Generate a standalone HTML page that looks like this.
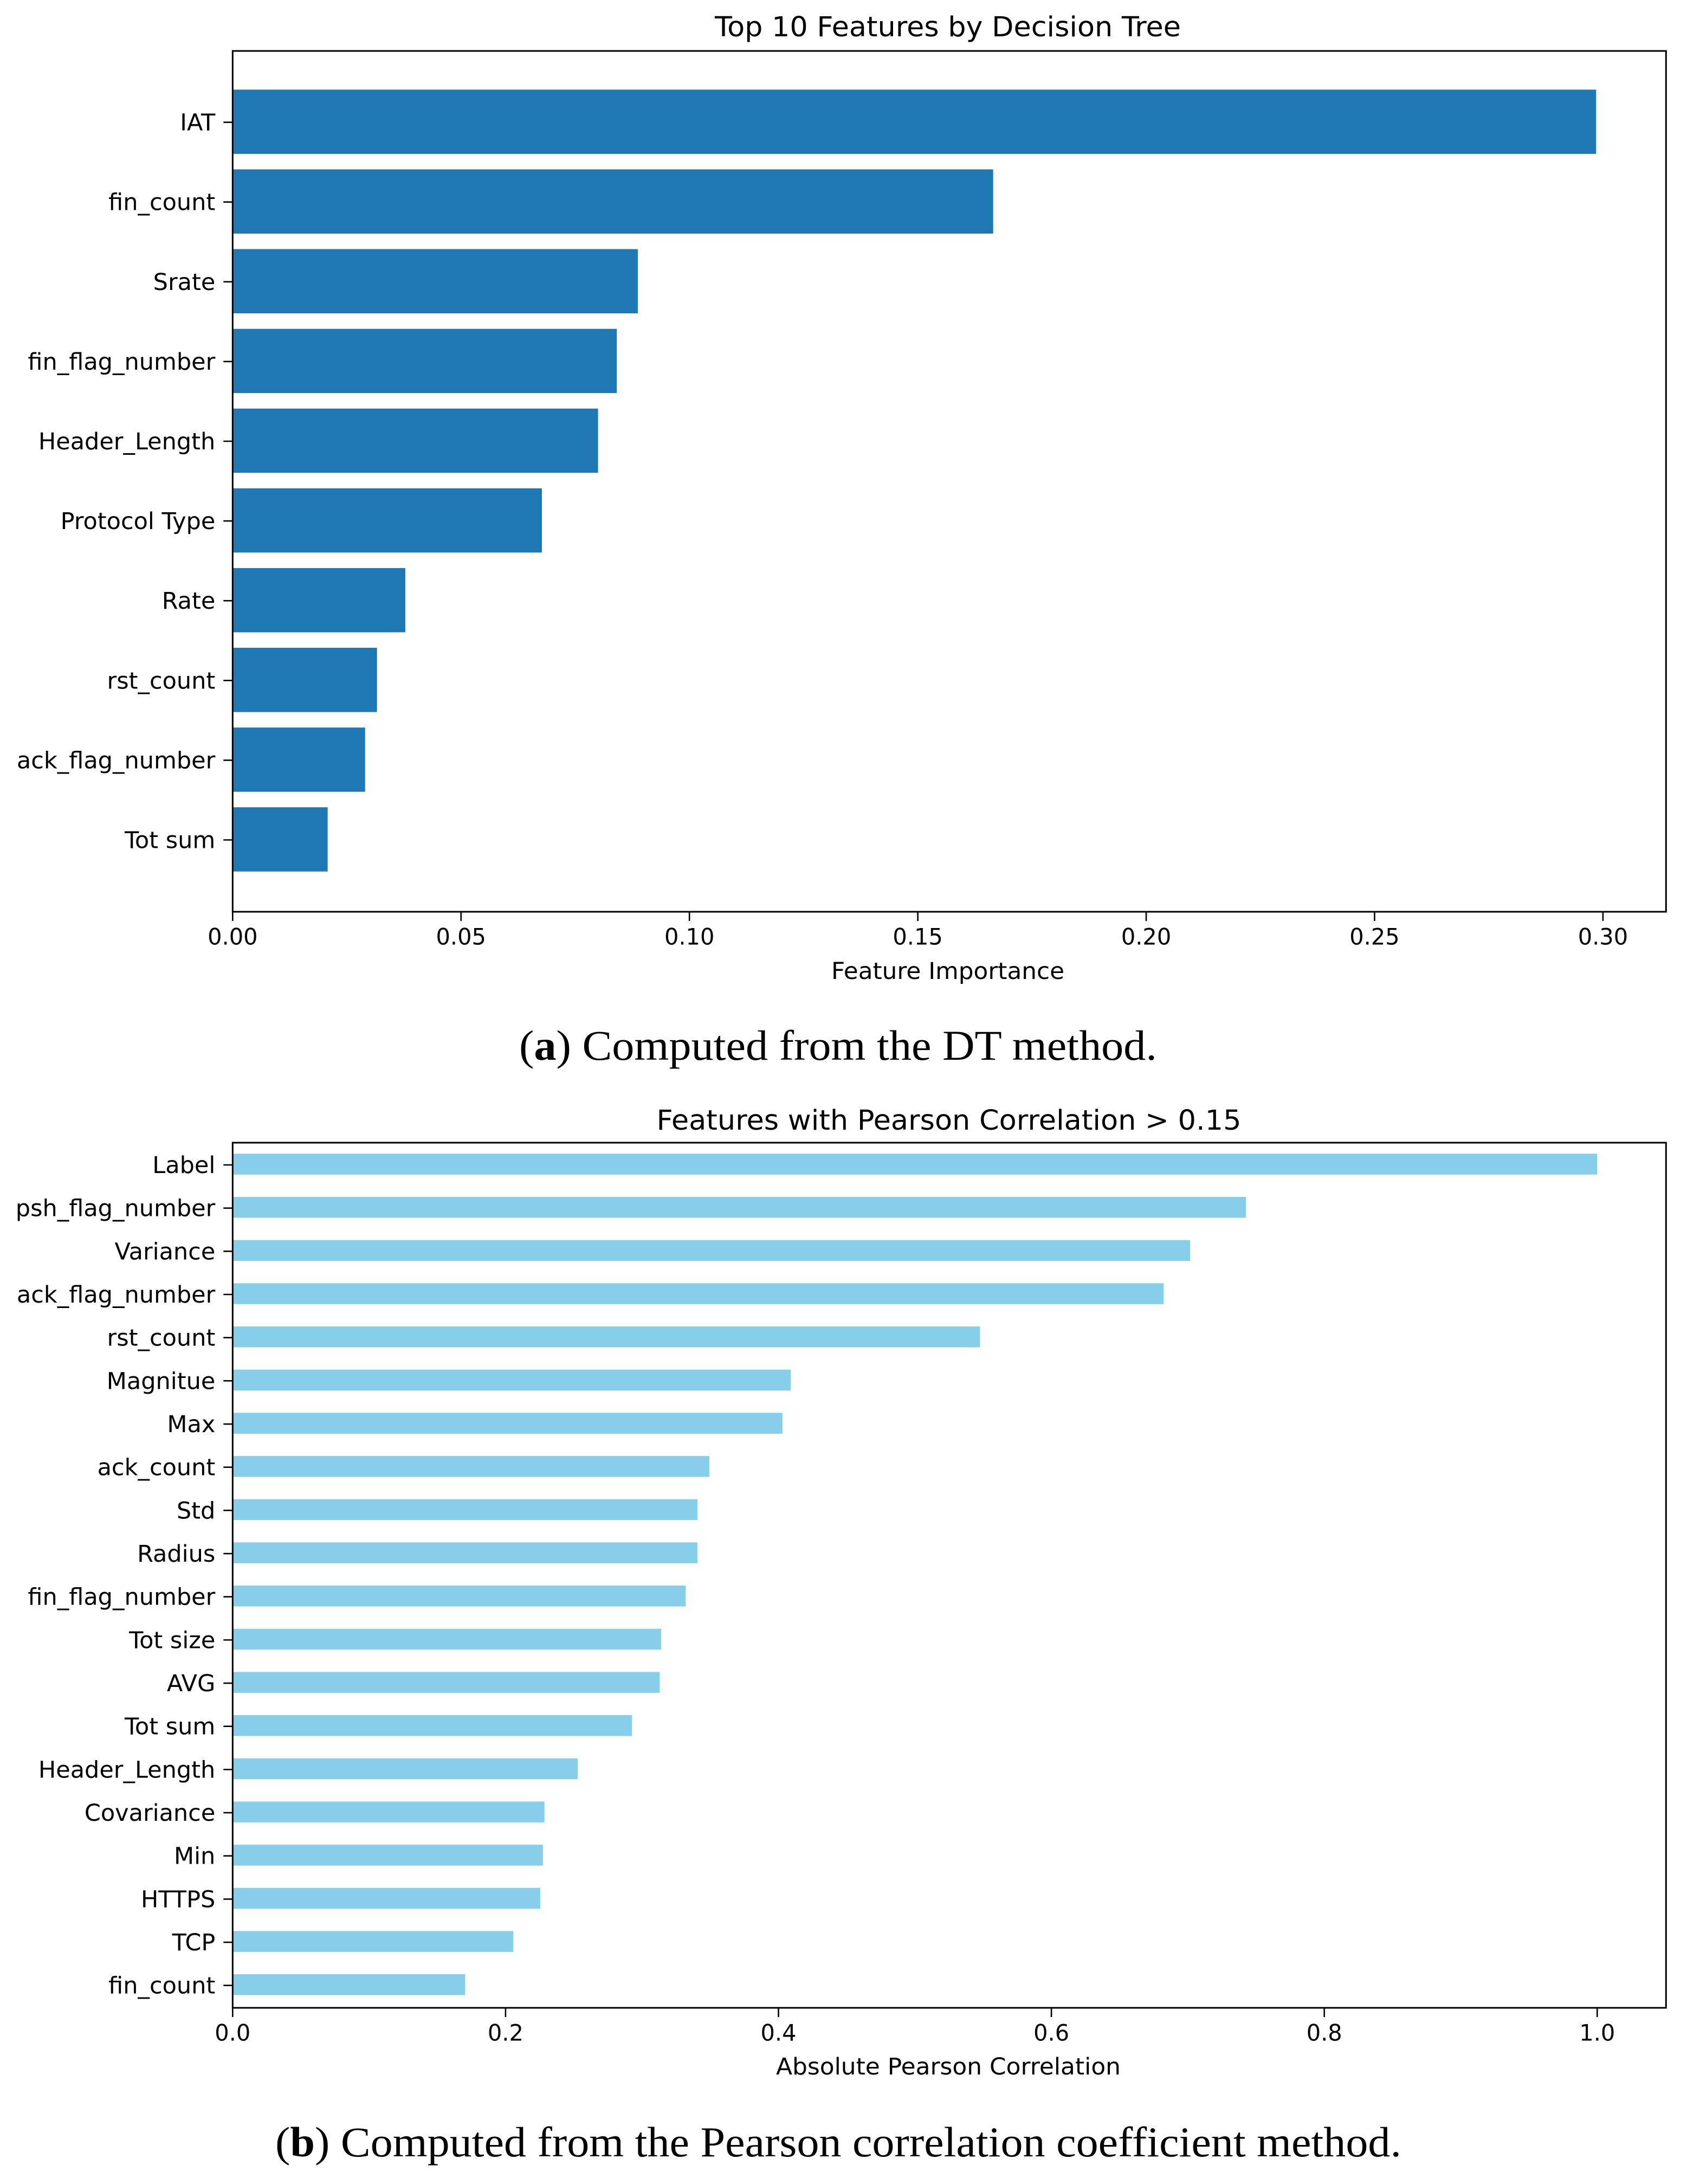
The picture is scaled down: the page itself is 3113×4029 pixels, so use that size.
<!DOCTYPE html>
<html lang="en">
<head>
<meta charset="utf-8">
<title>Feature importance charts</title>
<style>
html,body{margin:0;padding:0;background:#fff;width:3113px;height:4029px;overflow:hidden}
svg{display:block}
text{font-family:"DejaVu Sans","Liberation Sans",sans-serif;fill:#000}
.cap{font-family:"Liberation Serif",serif;font-size:78px}
.cat{font-size:43px}
.tick{font-size:41.5px}
</style>
</head>
<body>
<svg id="figure" xmlns="http://www.w3.org/2000/svg" width="3113" height="4029" viewBox="0 0 3113 4029">
  <rect x="0" y="0" width="3113" height="4029" fill="#fff"/>
  <g id="chart-a"></g>
  <text x="1749" y="67" text-anchor="middle" font-size="51" textLength="860" lengthAdjust="spacingAndGlyphs">Top 10 Features by Decision Tree</text>
  <text x="1749" y="1806" text-anchor="middle" font-size="43" textLength="430" lengthAdjust="spacingAndGlyphs">Feature Importance</text>
  <text class="cap" x="958" y="1955" textLength="1177" lengthAdjust="spacingAndGlyphs">(<tspan font-weight="bold">a</tspan>) Computed from the DT method.</text>
  <g id="chart-b"></g>
  <text x="1751" y="2084" text-anchor="middle" font-size="51" textLength="1079" lengthAdjust="spacingAndGlyphs">Features with Pearson Correlation &gt; 0.15</text>
  <text x="1750" y="3827" text-anchor="middle" font-size="43" textLength="636" lengthAdjust="spacingAndGlyphs">Absolute Pearson Correlation</text>
  <text class="cap" x="508" y="3978" textLength="2078" lengthAdjust="spacingAndGlyphs">(<tspan font-weight="bold">b</tspan>) Computed from the Pearson correlation coefficient method.</text>
</svg>
<script>
const dtFeatures = ["IAT","fin_count","Srate","fin_flag_number","Header_Length","Protocol Type","Rate","rst_count","ack_flag_number","Tot sum"];
const dtImportance = [0.2985,0.1665,0.0887,0.0841,0.08,0.0677,0.0378,0.0316,0.029,0.0208];
const dtTicks = [0,0.05,0.10,0.15,0.20,0.25,0.30];
const dtTickLabels = ["0.00","0.05","0.10","0.15","0.20","0.25","0.30"];

const pearsonFeatures = ["Label","psh_flag_number","Variance","ack_flag_number","rst_count","Magnitue","Max","ack_count","Std","Radius","fin_flag_number","Tot size","AVG","Tot sum","Header_Length","Covariance","Min","HTTPS","TCP","fin_count"];
const pearsonValues = [1.0,0.7425,0.7017,0.6823,0.5477,0.409,0.4029,0.3493,0.3406,0.3406,0.332,0.314,0.313,0.2927,0.2529,0.2285,0.2274,0.2254,0.2056,0.1704];
const pearsonTicks = [0,0.2,0.4,0.6,0.8,1.0];
const pearsonTickLabels = ["0.0","0.2","0.4","0.6","0.8","1.0"];

const NS = "http://www.w3.org/2000/svg";

function svgEl(parent, tag, attrs, txt) {
  const el = document.createElementNS(NS, tag);
  for (const k in attrs) el.setAttribute(k, attrs[k]);
  if (txt !== undefined) el.textContent = txt;
  parent.appendChild(el);
  return el;
}

function slug(s) {
  return s.toLowerCase().replace(/[^a-z0-9]+/g, "-");
}

function drawChart(group, cfg) {
  const xScale = v => cfg.left + v * cfg.xPerUnit;
  const yScale = i => cfg.firstY + i * cfg.pitch;

  cfg.values.forEach((v, i) => {
    const bar = svgEl(group, "rect", {x: xScale(0), y: yScale(i) - cfg.barH / 2, width: xScale(v) - xScale(0), height: cfg.barH, fill: cfg.color});
    
    
  });

  cfg.cats.forEach((c, i) => {
    const ty = yScale(i) + cfg.tickShift;
    const tick = svgEl(group, "line", {x1: cfg.left - 17, x2: cfg.left, y1: ty, y2: ty, stroke: "#000", "stroke-width": 2.6});
    
    
    const lab = svgEl(group, "text", {x: cfg.left - 32, y: ty + 15, "text-anchor": "end", class: "cat"}, c);
    
    
  });

  cfg.ticks.forEach((t, i) => {
    const tx = xScale(t);
    const tick = svgEl(group, "line", {x1: tx, x2: tx, y1: cfg.bottom, y2: cfg.bottom + 17, stroke: "#000", "stroke-width": 2.6});
    
    
    const lab = svgEl(group, "text", {x: tx, y: cfg.bottom + 60.5, "text-anchor": "middle", class: "tick"}, cfg.tickLabels[i]);
    
    
  });

  const frame = svgEl(group, "rect", {x: cfg.left, y: cfg.top, width: cfg.right - cfg.left, height: cfg.bottom - cfg.top, fill: "none", stroke: "#000", "stroke-width": 3});
  
  
}

drawChart(document.getElementById("chart-a"), {
  cats: dtFeatures, values: dtImportance, ticks: dtTicks, tickLabels: dtTickLabels,
  left: 429.3, right: 3074.3, top: 94, bottom: 1682,
  xPerUnit: 8428.7, firstY: 224.6, pitch: 147.1, barH: 118.5, tickShift: 1, color: "#1f77b4"
});

drawChart(document.getElementById("chart-b"), {
  cats: pearsonFeatures, values: pearsonValues, ticks: pearsonTicks, tickLabels: pearsonTickLabels,
  left: 429.3, right: 3074.3, top: 2108, bottom: 3704,
  xPerUnit: 2518, firstY: 2147.6, pitch: 79.67, barH: 38.5, tickShift: 1.4, color: "#87ceeb"
});
</script>
</body>
</html>
